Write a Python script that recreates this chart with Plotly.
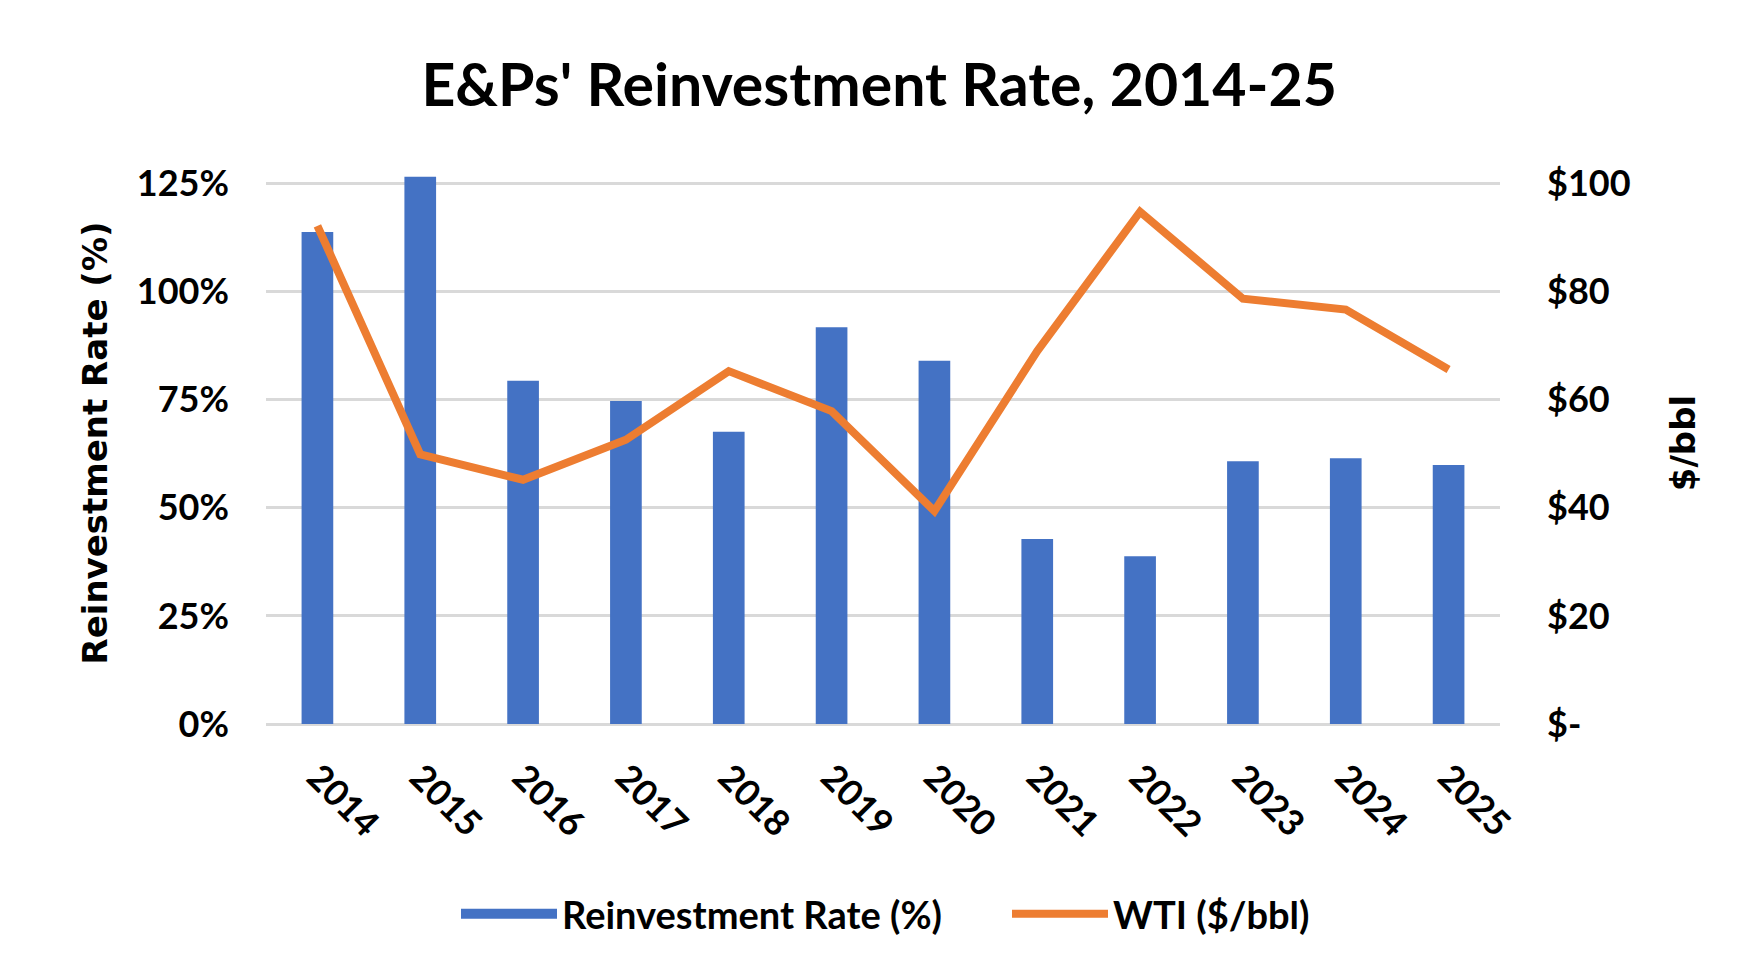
import plotly.graph_objects as go

years = ["2014", "2015", "2016", "2017", "2018", "2019", "2020", "2021", "2022", "2023", "2024", "2025"]
reinvestment_rate = [1.138, 1.266, 0.794, 0.747, 0.676, 0.918, 0.840, 0.428, 0.388, 0.608, 0.615, 0.599]
wti = [92.2, 49.9, 45.2, 52.6, 65.3, 57.9, 39.4, 69.0, 94.8, 78.7, 76.7, 65.6]

pct_ticks = [0, 0.25, 0.5, 0.75, 1.0, 1.25]
usd_ticks = [0, 20, 40, 60, 80, 100]
usd_labels = ["$-", "$20", "$40", "$60", "$80", "$100"]

BLUE = "#4472C4"
ORANGE = "#ED7D31"
GRID = "#D9D9D9"
TICKFONT = dict(family="Lato", size=36, color="#000000", weight="bold")
LEGENDFONT = dict(family="Lato", size=38, color="#000000", weight="bold")
AXTITLEFONT = dict(family="DejaVu Sans", size=34, color="#000000", weight="bold")

fig = go.Figure()
fig.add_trace(go.Bar(
    x=years, y=reinvestment_rate, name="Reinvestment Rate (%)",
    marker=dict(color=BLUE, line=dict(width=0)), yaxis="y", showlegend=False,
))
# legend entry for the bars, drawn as a wide block like the reference
fig.add_trace(go.Scatter(
    x=[None], y=[None], name="Reinvestment Rate (%)", mode="lines",
    line=dict(color=BLUE, width=26), yaxis="y", hoverinfo="skip",
))
fig.add_trace(go.Scatter(
    x=years, y=wti, name="WTI ($/bbl)", mode="lines",
    line=dict(color=ORANGE, width=8), yaxis="y2",
))

fig.update_layout(
    width=1760, height=972,
    margin=dict(l=258, r=268, t=154, b=256),
    paper_bgcolor="white", plot_bgcolor="white",
    bargap=0.692,
    title=dict(
        text="E&Ps' Reinvestment Rate, 2014-25",
        font=dict(family="Lato", size=59, color="#000000", weight="bold"),
        x=0.495, xref="container", xanchor="center",
        y=1 - 77 / 972, yref="container", yanchor="middle",
    ),
    xaxis=dict(
        type="category", tickangle=45, tickfont=TICKFONT,
        showgrid=False, showline=False, ticks="", ticklabelstandoff=24,
    ),
    yaxis=dict(
        range=[0, 1.30], tickvals=pct_ticks, tickformat=".0%",
        tickfont=TICKFONT, showgrid=True, gridcolor=GRID, gridwidth=3,
        zeroline=True, zerolinecolor=GRID, zerolinewidth=3,
        showline=False, ticks="", ticklabelstandoff=36,
        title=dict(text="Reinvestment Rate (%)", font=AXTITLEFONT, standoff=18),
    ),
    yaxis2=dict(
        range=[0, 104], tickvals=usd_ticks, ticktext=usd_labels,
        overlaying="y", side="right", tickfont=TICKFONT,
        showgrid=False, zeroline=False, showline=False, ticks="",
        ticklabelstandoff=46,
        title=dict(text="$/bbl", font=AXTITLEFONT, standoff=41),
    ),
    legend=dict(
        orientation="h", xref="container", yref="container",
        x=448 / 1760, xanchor="left", y=1 - 906 / 972, yanchor="middle",
        font=LEGENDFONT, itemwidth=96, traceorder="normal",
        entrywidth=440, entrywidthmode="pixels",
    ),
    showlegend=True,
)

fig.write_html("out.html")
